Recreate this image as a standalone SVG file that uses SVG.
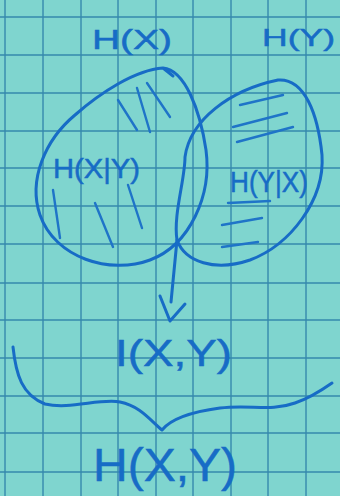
<svg xmlns="http://www.w3.org/2000/svg" width="340" height="496" viewBox="0 0 340 496">
<style>
.grid line{stroke:#3589ad;stroke-width:1.4}
.ink{fill:none;stroke:#176cc6;stroke-width:3;stroke-linecap:round;stroke-linejoin:round}
.hatch{fill:none;stroke:#1f74c8;stroke-width:2.4;stroke-linecap:round}
.lbl{font-family:"Liberation Sans",Arial,sans-serif;fill:#176cc6;stroke:#176cc6;stroke-width:0.5}
</style>
<rect width="340" height="496" fill="#7fd5cf"/>
<g class="grid">
<line x1="5" y1="0" x2="5" y2="496"/><line x1="43" y1="0" x2="43" y2="496"/><line x1="81" y1="0" x2="81" y2="496"/><line x1="118" y1="0" x2="118" y2="496"/><line x1="156" y1="0" x2="156" y2="496"/><line x1="193" y1="0" x2="193" y2="496"/><line x1="231" y1="0" x2="231" y2="496"/><line x1="268" y1="0" x2="268" y2="496"/><line x1="306" y1="0" x2="306" y2="496"/>
<line x1="0" y1="17" x2="340" y2="17"/><line x1="0" y1="55" x2="340" y2="55"/><line x1="0" y1="93" x2="340" y2="93"/><line x1="0" y1="131" x2="340" y2="131"/><line x1="0" y1="168" x2="340" y2="168"/><line x1="0" y1="206" x2="340" y2="206"/><line x1="0" y1="244" x2="340" y2="244"/><line x1="0" y1="283" x2="340" y2="283"/><line x1="0" y1="320" x2="340" y2="320"/><line x1="0" y1="358" x2="340" y2="358"/><line x1="0" y1="396" x2="340" y2="396"/><line x1="0" y1="433" x2="340" y2="433"/><line x1="0" y1="472" x2="340" y2="472"/>
</g>
<g id="set-x">
<path class="ink" d="M163,68 C185,70 200,110 206,150 C212,195 190,245 150,260 C110,275 55,258 40,215 C28,180 45,140 75,115 C100,93 135,70 163,68 L173,76"/>
<path class="hatch" d="M118,100 L137,130 M137,88 L150,132 M147,83 L170,117 M53,190 L60,238 M95,203 L113,247 M128,185 L142,228"/>
<text class="lbl" x="92" y="49" font-size="28" textLength="80" lengthAdjust="spacingAndGlyphs">H(X)</text>
</g>
<g id="set-y">
<path class="ink" d="M185,157 C190,120 230,90 278,80 C305,78 318,115 322,155 C325,200 290,245 250,260 C215,272 185,262 177,240 C173,215 185,180 185,157"/>
<path class="hatch" d="M240,105 L283,95 M233,127 L287,113 M237,142 L293,127 M228,203 L270,201 M222,225 L262,218 M222,247 L258,242"/>
<text class="lbl" x="262" y="46" font-size="24" textLength="73" lengthAdjust="spacingAndGlyphs">H(Y)</text>
</g>
<g id="region-x-given-y">
<text class="lbl" x="53" y="178" font-size="28" textLength="87" lengthAdjust="spacingAndGlyphs">H(X|Y)</text>
</g>
<g id="region-y-given-x">
<text class="lbl" x="230" y="192" font-size="30" textLength="78" lengthAdjust="spacingAndGlyphs">H(Y|X)</text>
</g>
<g id="mutual-info">
<text class="lbl" x="115" y="366" font-size="36" textLength="117" lengthAdjust="spacingAndGlyphs">I(X,Y)</text>
</g>
<g id="joint-entropy">
<text class="lbl" x="93" y="481" font-size="46" textLength="144" lengthAdjust="spacingAndGlyphs">H(X,Y)</text>
</g>
<g id="connectors">
<path class="ink" d="M177,240 L171,302"/>
<path class="ink" d="M160,296 L170,321 L185,304"/>
<path class="ink" d="M13,347 C16,375 22,395 45,404 C70,410 100,398 120,402 C140,406 150,420 162,430 C170,420 190,412 220,408 C250,404 270,412 295,403 C310,398 322,390 332,383"/>
</g>
</svg>
